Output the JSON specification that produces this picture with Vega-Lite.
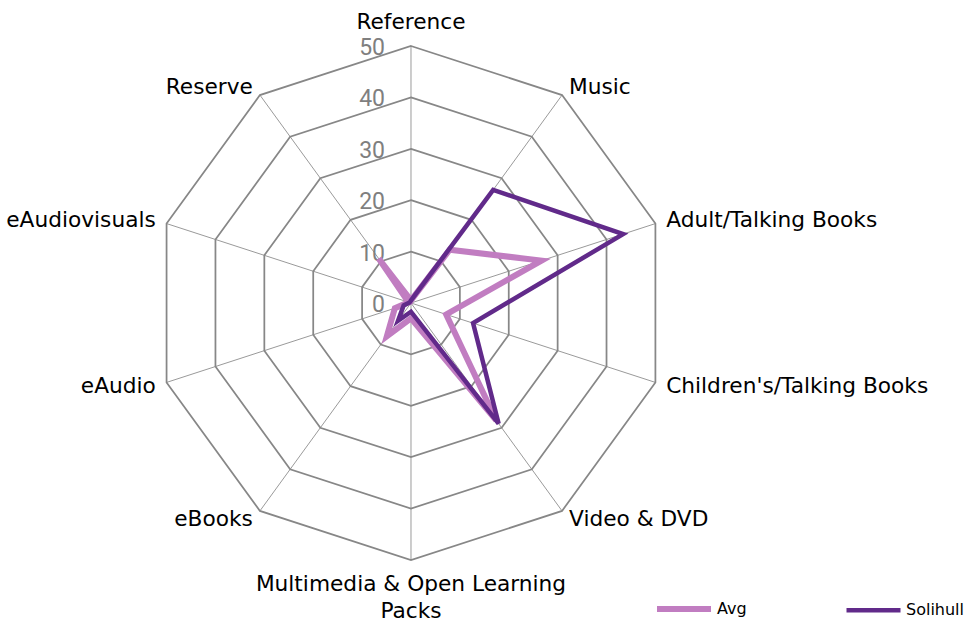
{
  "$schema": "https://vega.github.io/schema/vega-lite/v6.json",
  "width": 968,
  "height": 623,
  "autosize": {"type": "none"},
  "padding": 0,
  "config": {"view": {"stroke": null}, "font": "DejaVu Sans"},
  "datasets": {
    "scores": [
      {"cat": "Reference", "idx": 0, "series": "Avg", "value": 0.5},
      {"cat": "Music", "idx": 1, "series": "Avg", "value": 12.8},
      {"cat": "Adult/Talking Books", "idx": 2, "series": "Avg", "value": 26.7},
      {"cat": "Children's/Talking Books", "idx": 3, "series": "Avg", "value": 7.2},
      {"cat": "Video & DVD", "idx": 4, "series": "Avg", "value": 28.2},
      {"cat": "Multimedia & Open Learning Packs", "idx": 5, "series": "Avg", "value": 3},
      {"cat": "eBooks", "idx": 6, "series": "Avg", "value": 8},
      {"cat": "eAudio", "idx": 7, "series": "Avg", "value": 3.3},
      {"cat": "eAudiovisuals", "idx": 8, "series": "Avg", "value": 0.5},
      {"cat": "Reserve", "idx": 9, "series": "Avg", "value": 10.7},
      {"cat": "Reference", "idx": 0, "series": "Solihull", "value": 0.5},
      {"cat": "Music", "idx": 1, "series": "Solihull", "value": 27.2},
      {"cat": "Adult/Talking Books", "idx": 2, "series": "Solihull", "value": 43.4},
      {"cat": "Children's/Talking Books", "idx": 3, "series": "Solihull", "value": 12.7},
      {"cat": "Video & DVD", "idx": 4, "series": "Solihull", "value": 29},
      {"cat": "Multimedia & Open Learning Packs", "idx": 5, "series": "Solihull", "value": 1.7},
      {"cat": "eBooks", "idx": 6, "series": "Solihull", "value": 4.3},
      {"cat": "eAudio", "idx": 7, "series": "Solihull", "value": 1.5},
      {"cat": "eAudiovisuals", "idx": 8, "series": "Solihull", "value": 0.3},
      {"cat": "Reserve", "idx": 9, "series": "Solihull", "value": 0.3}
    ],
    "cats": [
      {"cat": "Reference", "label": "Reference", "idx": 0, "levels": [10, 20, 30, 40, 50], "spoke": [0, 50]},
      {"cat": "Music", "label": "Music", "idx": 1, "levels": [10, 20, 30, 40, 50], "spoke": [0, 50]},
      {"cat": "Adult/Talking Books", "label": "Adult/Talking Books", "idx": 2, "levels": [10, 20, 30, 40, 50], "spoke": [0, 50]},
      {"cat": "Children's/Talking Books", "label": "Children's/Talking Books", "idx": 3, "levels": [10, 20, 30, 40, 50], "spoke": [0, 50]},
      {"cat": "Video & DVD", "label": "Video & DVD", "idx": 4, "levels": [10, 20, 30, 40, 50], "spoke": [0, 50]},
      {"cat": "Multimedia & Open Learning Packs", "label": "Multimedia & Open Learning\nPacks", "idx": 5, "levels": [10, 20, 30, 40, 50], "spoke": [0, 50]},
      {"cat": "eBooks", "label": "eBooks", "idx": 6, "levels": [10, 20, 30, 40, 50], "spoke": [0, 50]},
      {"cat": "eAudio", "label": "eAudio", "idx": 7, "levels": [10, 20, 30, 40, 50], "spoke": [0, 50]},
      {"cat": "eAudiovisuals", "label": "eAudiovisuals", "idx": 8, "levels": [10, 20, 30, 40, 50], "spoke": [0, 50]},
      {"cat": "Reserve", "label": "Reserve", "idx": 9, "levels": [10, 20, 30, 40, 50], "spoke": [0, 50]}
    ],
    "ticks": [
      {"level": 0}, {"level": 10}, {"level": 20}, {"level": 30}, {"level": 40}, {"level": 50}
    ]
  },
  "layer": [
    {
      "data": {"name": "cats"},
      "transform": [
        {"flatten": ["spoke"], "as": ["r"]},
        {"calculate": "datum.r*sin(datum.idx*PI/5)", "as": "x"},
        {"calculate": "datum.r*cos(datum.idx*PI/5)", "as": "y"}
      ],
      "mark": {"type": "line", "stroke": "#9a9a9a", "strokeWidth": 1},
      "encoding": {
        "x": {"field": "x", "type": "quantitative", "scale": {"domain": [-79.96, 108.37], "nice": false, "zero": false}, "axis": null},
        "y": {"field": "y", "type": "quantitative", "scale": {"domain": [-62.26, 58.95], "nice": false, "zero": false}, "axis": null},
        "detail": {"field": "cat", "type": "nominal"},
        "order": {"field": "r", "type": "quantitative"}
      }
    },
    {
      "data": {"name": "cats"},
      "transform": [
        {"flatten": ["levels"], "as": ["level"]},
        {"calculate": "datum.level*sin(datum.idx*PI/5)", "as": "x"},
        {"calculate": "datum.level*cos(datum.idx*PI/5)", "as": "y"}
      ],
      "mark": {"type": "line", "interpolate": "linear-closed", "stroke": "#878787", "strokeWidth": 1.75},
      "encoding": {
        "x": {"field": "x", "type": "quantitative", "scale": {"domain": [-79.96, 108.37], "nice": false, "zero": false}, "axis": null},
        "y": {"field": "y", "type": "quantitative", "scale": {"domain": [-62.26, 58.95], "nice": false, "zero": false}, "axis": null},
        "detail": {"field": "level", "type": "nominal"},
        "order": {"field": "idx", "type": "quantitative"}
      }
    },
    {
      "data": {"name": "ticks"},
      "transform": [{"calculate": "0", "as": "x"}],
      "mark": {"type": "text", "align": "right", "baseline": "middle", "dx": -26, "dy": 2, "font": "Roboto", "fontSize": 23, "fill": "#7f7f7f"},
      "encoding": {
        "x": {"field": "x", "type": "quantitative"},
        "y": {"field": "level", "type": "quantitative"},
        "text": {"field": "level", "type": "quantitative"}
      }
    },
    {
      "data": {"name": "scores"},
      "transform": [
        {"calculate": "datum.value*sin(datum.idx*PI/5)", "as": "x"},
        {"calculate": "datum.value*cos(datum.idx*PI/5)", "as": "y"}
      ],
      "mark": {"type": "line", "interpolate": "linear-closed"},
      "encoding": {
        "x": {"field": "x", "type": "quantitative"},
        "y": {"field": "y", "type": "quantitative"},
        "order": {"field": "idx", "type": "quantitative"},
        "color": {
          "field": "series", "type": "nominal",
          "scale": {"domain": ["Avg", "Solihull"], "range": ["#c17dc1", "#612a8a"]},
          "legend": {
            "title": null, "orient": "none", "legendX": 654, "legendY": 579,
            "direction": "horizontal", "symbolType": "stroke", "symbolSize": 2916,
            "symbolStrokeWidth": 4, "labelFontSize": 16, "labelColor": "#000000",
            "labelOffset": 3, "columnPadding": 90
          }
        },
        "strokeWidth": {
          "field": "series", "type": "nominal",
          "scale": {"domain": ["Avg", "Solihull"], "range": [6, 4.5]},
          "legend": null
        }
      }
    },
    {
      "data": {"name": "cats"},
      "transform": [
        {"filter": "datum.idx == 0"},
        {"calculate": "52*sin(datum.idx*PI/5)", "as": "x"},
        {"calculate": "52*cos(datum.idx*PI/5)", "as": "y"}
      ],
      "mark": {"type": "text", "align": "center", "baseline": "bottom", "dy": -2, "fontSize": 21.7, "fill": "#000000"},
      "encoding": {
        "x": {"field": "x", "type": "quantitative"},
        "y": {"field": "y", "type": "quantitative"},
        "text": {"field": "label", "type": "nominal"}
      }
    },
    {
      "data": {"name": "cats"},
      "transform": [
        {"filter": "datum.idx == 5"},
        {"calculate": "52*sin(datum.idx*PI/5)", "as": "x"},
        {"calculate": "52*cos(datum.idx*PI/5)", "as": "y"}
      ],
      "mark": {"type": "text", "align": "center", "baseline": "top", "dy": 4, "fontSize": 21.7, "lineHeight": 27, "lineBreak": "\n", "fill": "#000000"},
      "encoding": {
        "x": {"field": "x", "type": "quantitative"},
        "y": {"field": "y", "type": "quantitative"},
        "text": {"field": "label", "type": "nominal"}
      }
    },
    {
      "data": {"name": "cats"},
      "transform": [
        {"filter": "datum.idx >= 1 && datum.idx <= 4"},
        {"calculate": "52*sin(datum.idx*PI/5)", "as": "x"},
        {"calculate": "52*cos(datum.idx*PI/5)", "as": "y"}
      ],
      "mark": {"type": "text", "align": "left", "baseline": "middle", "dx": 1, "fontSize": 21.7, "fill": "#000000"},
      "encoding": {
        "x": {"field": "x", "type": "quantitative"},
        "y": {"field": "y", "type": "quantitative"},
        "text": {"field": "label", "type": "nominal"}
      }
    },
    {
      "data": {"name": "cats"},
      "transform": [
        {"filter": "datum.idx >= 6"},
        {"calculate": "52*sin(datum.idx*PI/5)", "as": "x"},
        {"calculate": "52*cos(datum.idx*PI/5)", "as": "y"}
      ],
      "mark": {"type": "text", "align": "right", "baseline": "middle", "dx": -1, "fontSize": 21.7, "fill": "#000000"},
      "encoding": {
        "x": {"field": "x", "type": "quantitative"},
        "y": {"field": "y", "type": "quantitative"},
        "text": {"field": "label", "type": "nominal"}
      }
    }
  ]
}
